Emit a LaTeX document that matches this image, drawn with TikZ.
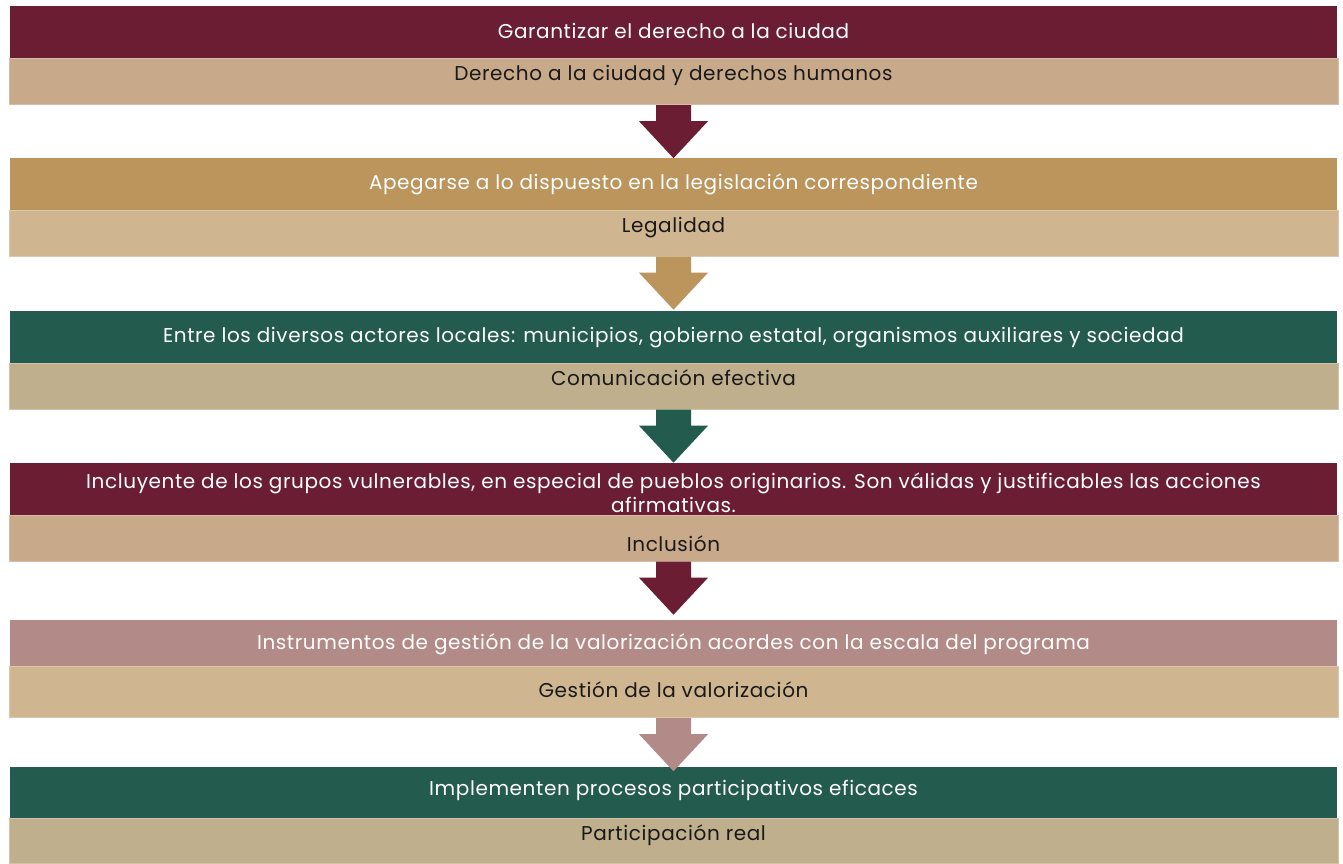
\documentclass[tikz,border=0pt]{standalone}
\usepackage{fontspec}
\setmainfont[LetterSpace=3]{Poppins}
\usetikzlibrary{positioning}
\definecolor{guinda}{HTML}{6B1D33}
\definecolor{dorado}{HTML}{BC955C}
\definecolor{verde}{HTML}{235B4E}
\definecolor{rosa}{HTML}{B28A87}
\definecolor{arena}{HTML}{C8A989}
\definecolor{paja}{HTML}{D0B690}
\definecolor{oliva}{HTML}{BFAF8C}

\begin{document}
\begin{tikzpicture}[x=1pt, y=-1pt,
	head/.style={fill=#1, text=white, minimum width=1327pt, minimum height=52pt,
		inner sep=0pt, text height=14pt, text depth=2pt, font=\fontsize{20}{24}\selectfont},
	sub/.style={fill=#1, draw=#1!75!white, line width=1pt, text=black!90,
		minimum width=1329pt, minimum height=46pt, inner sep=0pt,
		text height=14pt, text depth=16pt, font=\fontsize{20}{24}\selectfont}]
	\useasboundingbox (0,0) rectangle (1343,863);
	\node[head=guinda] (h1) at (673.5,32)    {Garantizar el derecho a la ciudad};
	\node[sub=arena, below=0pt of h1] (s1)   {Derecho a la ciudad y derechos humanos};
	\node[head=dorado] (h2) at (673.5,183.5) {Apegarse a lo dispuesto en la legislación correspondiente};
	\node[sub=paja, below=0pt of h2] (s2)    {Legalidad};
	\node[head=verde] (h3) at (673.5,336.5)  {Entre los diversos actores locales: municipios, gobierno estatal, organismos auxiliares y sociedad};
	\node[head=guinda, text depth=14pt] (h4) at (673.5,488.5)
		{\parbox[t]{1300pt}{\centering Incluyente de los grupos vulnerables, en especial de pueblos originarios. Son válidas y justificables las acciones\\afirmativas.}};
	\node[sub=oliva, below=0pt of h3] (s3)   {Comunicación efectiva};
	\node[sub=arena, below=0pt of h4, text height=26pt, text depth=0pt] (s4) {Inclusión};
	\node[head=rosa, minimum height=46pt] (h5) at (673.5,643) {Instrumentos de gestión de la valorización acordes con la escala del programa};
	\node[sub=paja, below=0pt of h5, minimum height=51pt, text depth=4pt] (s5) {Gestión de la valorización};
	\node[head=verde, minimum height=51pt, text depth=8pt] (h6) at (673.5,792.5) {Implementen procesos participativos eficaces};
	\node[sub=oliva, below=0pt of h6, minimum height=45pt] (s6) {Participación real};
	\foreach \from/\to/\col in {
		s1/h2/guinda, s2/h3/dorado, s3/h4/verde,
		s4/h5/guinda, s5/h6/rosa}
	\fill[\col] ([xshift=-17.5pt]\from.south) -- ([xshift=17.5pt]\from.south)
		-- ([xshift=17.5pt,yshift=-16pt]\from.south) -- ([xshift=34.5pt,yshift=-16pt]\from.south)
		-- ([yshift=-53pt]\from.south) -- ([xshift=-34.5pt,yshift=-16pt]\from.south)
		-- ([xshift=-17.5pt,yshift=-16pt]\from.south) -- cycle;
\end{tikzpicture}
\end{document}
